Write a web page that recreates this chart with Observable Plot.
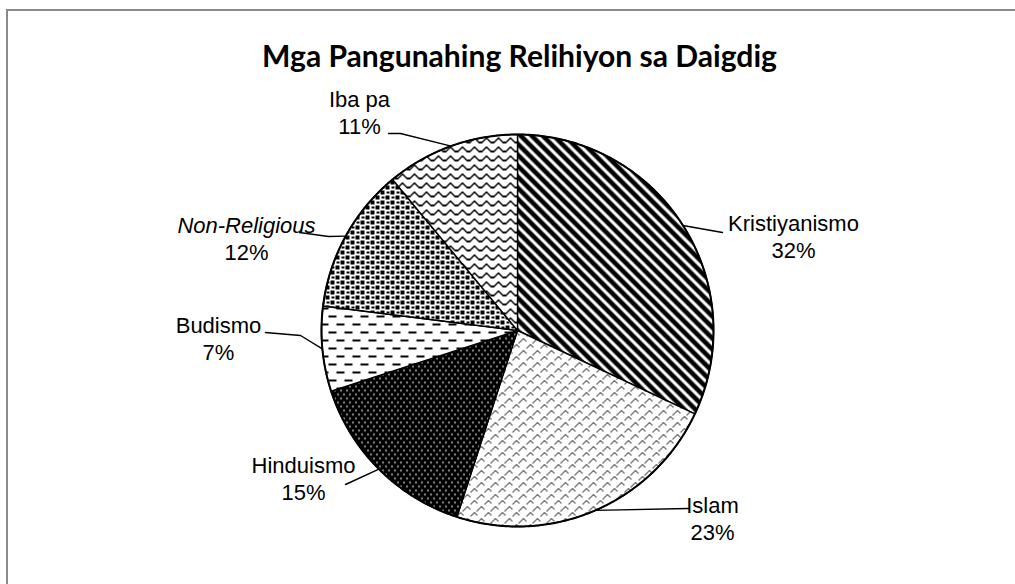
<!DOCTYPE html>
<html><head><meta charset="utf-8">
<script src="https://cdn.jsdelivr.net/npm/d3@7"></script>
<script src="https://cdn.jsdelivr.net/npm/@observablehq/plot@0.6"></script>
<style>
html,body{margin:0;padding:0;background:#fff;overflow:hidden;width:1015px;height:584px;}
#frame{position:absolute;left:6px;top:9px;width:1200px;height:800px;border-left:2px solid #8a8a8a;border-top:2px solid #8a8a8a;}
#chart{position:absolute;left:0;top:0;}
</style></head><body>
<div id="frame"></div>
<div id="chart"></div>
<script>
// ---- data ----
const title = "Mga Pangunahing Relihiyon sa Daigdig";
const categories = ["Kristiyanismo", "Islam", "Hinduismo", "Budismo", "Non-Religious", "Iba pa"];
const percents = [32, 23, 15, 7, 12, 11];
const percentLabels = ["32%", "23%", "15%", "7%", "12%", "11%"];
const italicCategories = ["Non-Religious"];

// ---- layout (pixels) ----
const CX = 517, CY = 330, R = 196;
const labelCenters = [[793, 223], [712, 505], [303, 465], [218, 325], [246, 225], [359, 99]];
const lineGap = 27;
const leaderEnds = [[[722, 232]], [[688, 508]], [[345, 484]], [[265, 332], [300, 335]], [[299, 232], [328, 236]], [[388, 133], [400, 133]]];

// ---- slices from data ----
const arcs = d3.pie().sort(null).value(d => d)(percents);
const slices = arcs.map((a, i) => {
  const n = Math.max(4, Math.ceil((a.endAngle - a.startAngle) / (Math.PI / 360)));
  const pts = [{x: CX, y: CY}];
  for (let k = 0; k <= n; k++) {
    const t = a.startAngle + (a.endAngle - a.startAngle) * k / n;
    pts.push({x: CX + R * Math.sin(t), y: CY - R * Math.cos(t)});
  }
  pts.push({x: CX, y: CY});
  return pts;
});
const circle = d3.range(0, 721).map(k => ({x: CX + R * Math.sin(k * Math.PI / 360), y: CY - R * Math.cos(k * Math.PI / 360)}));

const leaders = arcs.map((a, i) => {
  const m = (a.startAngle + a.endAngle) / 2;
  const pts = leaderEnds[i].map(([x, y]) => ({x, y}));
  pts.push({x: CX + R * Math.sin(m), y: CY - R * Math.cos(m)});
  return pts;
});

const labels = categories.map((c, i) => ({name: c, pct: percentLabels[i], x: labelCenters[i][0], y: labelCenters[i][1]}));

// title font fit
const ctx = document.createElement("canvas").getContext("2d");
ctx.font = "700 100px Lato";
const titleSize = 100 * 515 / ctx.measureText(title).width;

const font = "Liberation Sans, Arial, sans-serif";
const marks = [];
slices.forEach((s, i) => marks.push(Plot.line(s, {x: "x", y: "y", fill: `url(#pat${i})`, stroke: "black", strokeWidth: 1.4, strokeLinejoin: "miter"})));
marks.push(Plot.line(circle, {x: "x", y: "y", stroke: "black", strokeWidth: 2}));
leaders.forEach(l => marks.push(Plot.line(l, {x: "x", y: "y", stroke: "black", strokeWidth: 1.4, strokeLinejoin: "miter"})));
marks.push(Plot.text(labels.filter(d => !italicCategories.includes(d.name)), {x: "x", y: "y", text: "name", fontFamily: font, fontSize: 22, fill: "black", lineAnchor: "middle"}));
marks.push(Plot.text(labels.filter(d => italicCategories.includes(d.name)), {x: "x", y: "y", text: "name", fontFamily: font, fontSize: 22, fontStyle: "italic", fill: "black", lineAnchor: "middle"}));
marks.push(Plot.text(labels, {x: "x", y: d => d.y + lineGap, text: "pct", fontFamily: font, fontSize: 22, fill: "black", lineAnchor: "middle"}));
marks.push(Plot.text([title], {x: () => 519, y: () => 57, text: d => d, fontFamily: "Lato, sans-serif", fontWeight: 700, fontSize: titleSize, fill: "black", lineAnchor: "middle"}));

const plot = Plot.plot({
  width: 1015, height: 584, margin: 0,
  x: {domain: [0, 1015], range: [0, 1015], axis: null},
  y: {domain: [0, 584], range: [0, 584], axis: null},
  style: {background: "transparent"},
  marks
});

plot.insertAdjacentHTML("afterbegin", `<defs>
<pattern id="pat0" patternUnits="userSpaceOnUse" width="11" height="11">
  <rect width="11" height="11" fill="white"/>
  <path d="M-5.5,5.5 L5.5,16.5 M0,0 L11,11 M5.5,-5.5 L16.5,5.5" stroke="black" stroke-width="4.6"/>
</pattern>
<pattern id="pat1" patternUnits="userSpaceOnUse" width="14" height="12" shape-rendering="crispEdges">
  <rect width="14" height="12" fill="white"/>
  <path d="M0,7 L5,2 L8,5 M7,13 L12,8 L15,11 M-7,13 L-2,8 L1,11" stroke="black" stroke-width="1.2" fill="none"/>
</pattern>
<pattern id="pat2" patternUnits="userSpaceOnUse" width="6" height="8" shape-rendering="crispEdges">
  <rect width="6" height="8" fill="black"/>
  <rect x="1" y="1" width="1" height="2" fill="white"/>
  <rect x="4" y="5" width="1" height="2" fill="white"/>
</pattern>
<pattern id="pat3" patternUnits="userSpaceOnUse" width="16" height="16" shape-rendering="crispEdges">
  <rect width="16" height="16" fill="white"/>
  <rect x="0" y="3" width="8" height="2" fill="black"/>
  <rect x="8" y="11" width="8" height="2" fill="black"/>
</pattern>
<pattern id="pat4" patternUnits="userSpaceOnUse" width="10" height="10" shape-rendering="crispEdges">
  <rect width="10" height="10" fill="white"/>
  <rect x="0" y="0" width="4" height="4" fill="black"/>
  <rect x="5" y="5" width="4" height="4" fill="black"/>
  <rect x="6" y="1" width="3" height="2" fill="black"/>
  <rect x="1" y="6" width="3" height="2" fill="black"/>
</pattern>
<pattern id="pat5" patternUnits="userSpaceOnUse" width="12" height="9" shape-rendering="crispEdges">
  <rect width="12" height="9" fill="white"/>
  <path d="M0,7 L2,7 L6,2 L10,7 L12,7" stroke="black" stroke-width="1.2" fill="none"/>
</pattern>
</defs>`);

document.getElementById("chart").appendChild(plot);
</script>
</body></html>
